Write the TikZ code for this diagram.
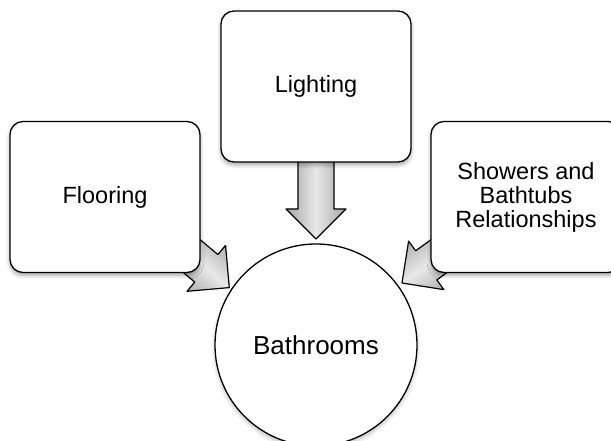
\documentclass[tikz,border=0pt]{standalone}
\usepackage{fontspec}
\setmainfont{Liberation Sans}
\usetikzlibrary{shadows.blur,calc}

\tikzset{
  topic/.style={draw=black, line width=1.3pt, fill=white, rounded corners=13pt,
    minimum width=190pt, minimum height=151pt, align=center,
    font=\fontsize{23.5}{24}\selectfont,
    blur shadow={shadow xshift=0pt, shadow yshift=-3pt, shadow blur radius=4pt, shadow opacity=35}},
  hub/.style={circle, draw=black, line width=1.3pt, fill=white, minimum size=202pt,
    font=\fontsize{26}{28}\selectfont,
    blur shadow={shadow xshift=0pt, shadow yshift=-3pt, shadow blur radius=4pt, shadow opacity=25}},
  arrowbody/.style={draw=black, line width=1.2pt, line join=round,
    left color=gray!70, right color=gray!70, middle color=gray!18}
}

% block arrow: tip point, direction angle, overall length
\newcommand\blockarrow[3]{%
  \begin{scope}[shift={(#1)}, rotate=#2]
    \path[arrowbody, shading angle=#2]
      (0,0) -- (-30,30) -- (-30,18) -- (-#3,18) -- (-#3,-18)
      -- (-30,-18) -- (-30,-30) -- cycle;
  \end{scope}}

\begin{document}
\begin{tikzpicture}[x=1pt, y=1pt]
  \useasboundingbox (0,0) rectangle (611,440);

  \node[hub] (bath) at (316,95) {Bathrooms};

  \coordinate (tipL) at ($(bath.center)+(90:106)$);
  \coordinate (tipF) at ($(bath.center)+(146.5:104)$);
  \coordinate (tipS) at ($(bath.center)+(35.8:106)$);

  \blockarrow{tipL}{-90}{85}
  \blockarrow{tipF}{-40}{80}
  \blockarrow{tipS}{216}{80}

  \node[topic] (light) at (316,353.5) {Lighting};
  \node[topic] (floor) at (105,243) {Flooring};
  \node[topic] (shower) at (526,243) {Showers and\\Bathtubs\\Relationships};
\end{tikzpicture}
\end{document}
